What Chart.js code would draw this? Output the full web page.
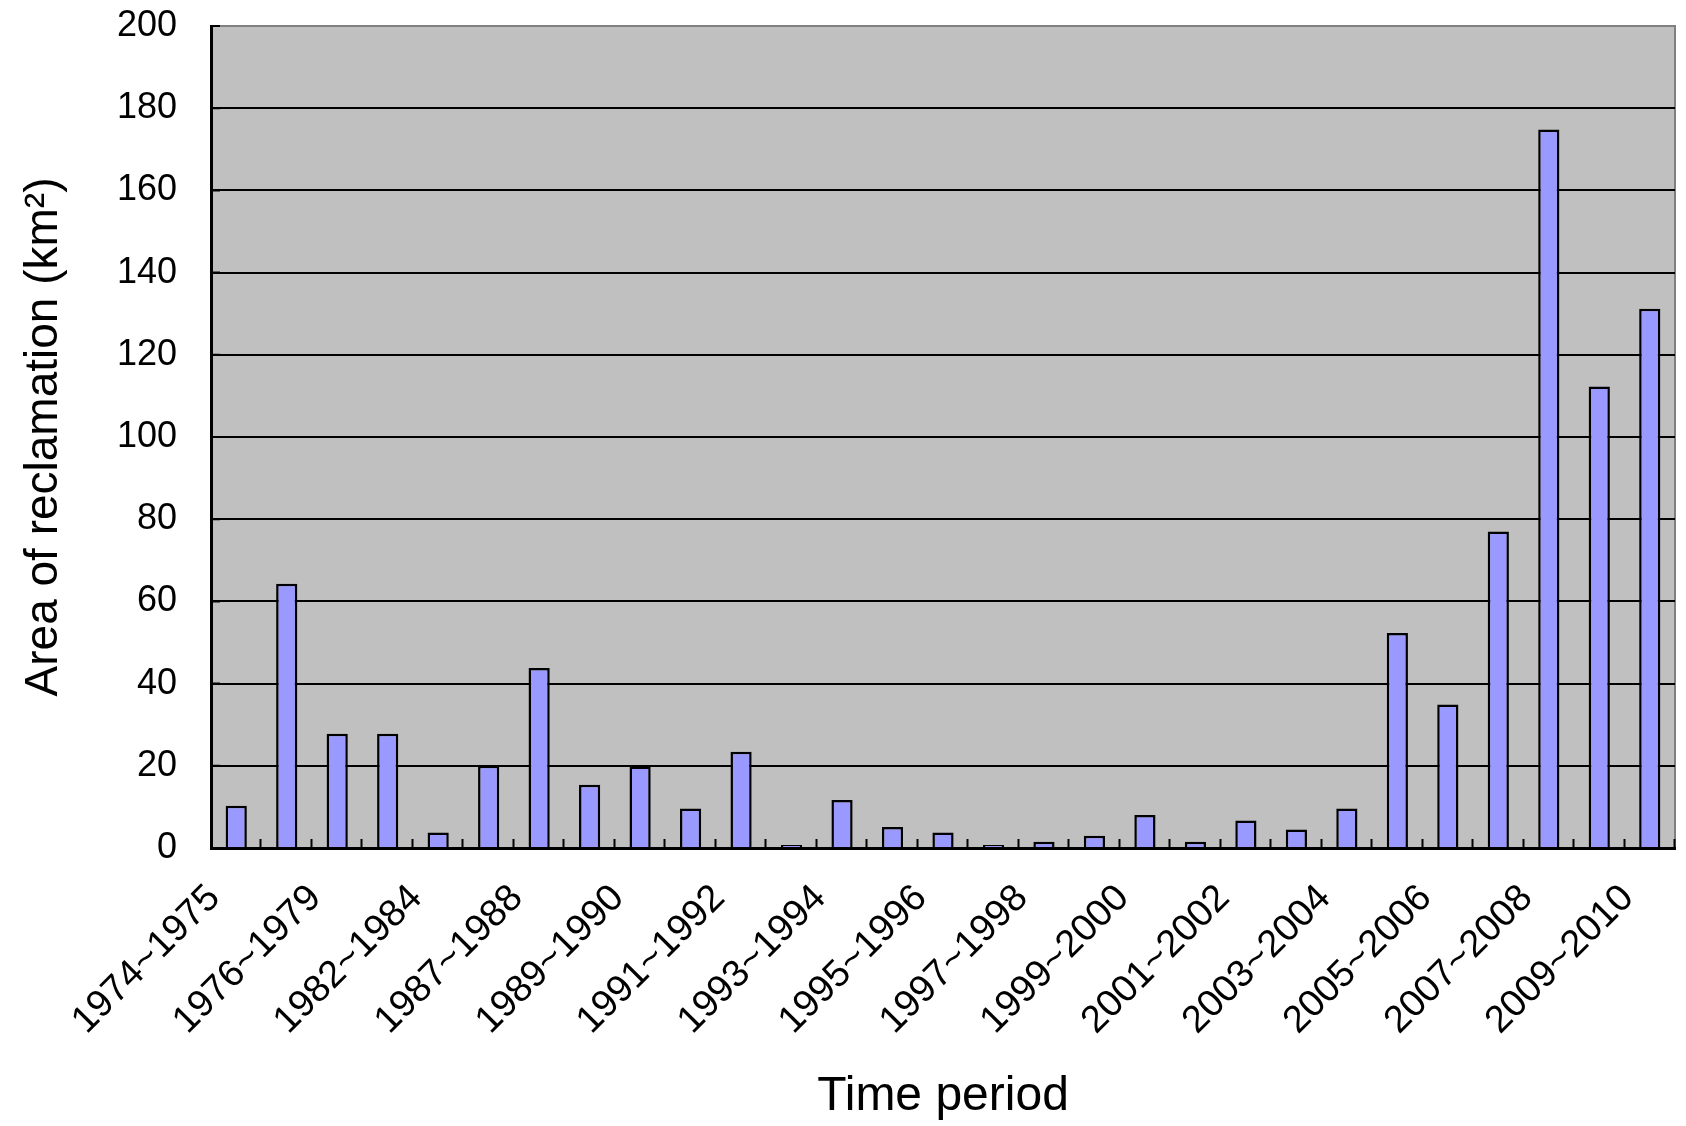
<!DOCTYPE html>
<html>
<head>
<meta charset="utf-8">
<script src="https://cdn.jsdelivr.net/npm/chart.js@4/dist/chart.umd.min.js"></script>
<style>
  html, body { margin: 0; padding: 0; background: #fff; }
  canvas { display: block; }
</style>
</head>
<body>
<canvas id="reclamation-chart" width="1686" height="1126"></canvas>
<script>
// time periods (only every other one is labelled on the axis)
const periods = [
    '1974~1975', '1975~1976', '1976~1979', '1979~1982', '1982~1984', '1984~1987',
    '1987~1988', '1988~1989', '1989~1990', '1990~1991', '1991~1992', '1992~1993',
    '1993~1994', '1994~1995', '1995~1996', '1996~1997', '1997~1998', '1998~1999',
    '1999~2000', '2000~2001', '2001~2002', '2002~2003', '2003~2004', '2004~2005',
    '2005~2006', '2006~2007', '2007~2008', '2008~2009', '2009~2010'
];

// area of reclamation, km2
const areas = [
    10.3, 64.3, 27.8, 27.8, 3.8, 20.0,
    43.8, 15.4, 19.8, 9.6, 23.4, 0.7,
    11.7, 5.1, 3.8, 0.7, 1.5, 3.0,
    8.0, 1.5, 6.7, 4.5, 9.6, 52.3,
    34.9, 77.0, 174.8, 112.3, 131.2
];

const yTicks = [0, 20, 40, 60, 80, 100, 120, 140, 160, 180, 200];

const fontFamily = "'Liberation Sans', Arial, sans-serif";

// grey plot area with a thin grey frame
const plotBackground = {
    id: 'plotBackground',
    beforeDraw(chart) {
        const {ctx, chartArea: a} = chart;
        ctx.save();
        ctx.fillStyle = '#c0c0c0';
        ctx.fillRect(a.left, a.top, a.right - a.left, a.bottom - a.top);
        ctx.strokeStyle = '#808080';
        ctx.lineWidth = 2;
        ctx.strokeRect(a.left, a.top, a.right - a.left, a.bottom - a.top);
        ctx.restore();
    }
};

// short tick marks pointing into the plot, like the original spreadsheet chart
const innerTicks = {
    id: 'innerTicks',
    afterDatasetsDraw(chart) {
        const {ctx, scales: {x, y}} = chart;
        const step = (x.right - x.left) / periods.length;
        ctx.save();
        ctx.strokeStyle = '#000';
        ctx.lineWidth = 2;
        ctx.beginPath();
        for (let i = 1; i <= periods.length; i++) {
            const px = Math.round(x.left + i * step) - 0.5;
            ctx.moveTo(px, y.bottom);
            ctx.lineTo(px, y.bottom - 9);
        }
        yTicks.forEach(v => {
            const py = y.getPixelForValue(v);
            ctx.moveTo(x.left, py);
            ctx.lineTo(x.left + 9, py);
        });
        ctx.stroke();
        ctx.restore();
    }
};

const ctx = document.getElementById('reclamation-chart').getContext('2d');
window.reclamationChart = new Chart(ctx, {
    type: 'bar',
    data: {
        labels: periods,
        datasets: [{
            data: areas,
            backgroundColor: '#9999ff',
            borderColor: '#000',
            borderWidth: 2.5,
            borderSkipped: 'bottom',
            barPercentage: 1,
            categoryPercentage: 0.42
        }]
    },
    options: {
        responsive: false,
        animation: false,
        events: [],
        layout: {
            padding: {left: 0, right: 11, top: 26, bottom: 0}
        },
        plugins: {
            legend: {display: false},
            tooltip: {enabled: false}
        },
        scales: {
            x: {
                grid: {display: false},
                border: {display: true, color: '#000', width: 3},
                ticks: {
                    autoSkip: false,
                    minRotation: 45,
                    maxRotation: 45,
                    padding: 20,
                    labelOffset: -22,
                    color: '#000',
                    font: {family: fontFamily, size: 38},
                    callback: (value, index) => index % 2 === 0 ? periods[index] : ''
                },
                title: {
                    display: true,
                    text: 'Time period',
                    color: '#000',
                    font: {family: fontFamily, size: 48},
                    padding: {top: 0, bottom: 0}
                },
                afterFit: (scale) => {
                    scale.height = 278;
                    scale.paddingLeft = 0;
                    scale.paddingRight = 0;
                }
            },
            y: {
                min: 0,
                max: 200,
                afterBuildTicks: (scale) => { scale.ticks = yTicks.map(v => ({value: v})); },
                grid: {
                    drawTicks: false,
                    lineWidth: 2,
                    color: (c) => c.tick && c.tick.value === 200 ? 'rgba(0,0,0,0)' : '#000'
                },
                border: {display: true, color: '#000', width: 3},
                ticks: {
                    padding: 34,
                    color: '#000',
                    font: {family: fontFamily, size: 36}
                },
                title: {
                    display: true,
                    text: 'Area of reclamation (km²)',
                    color: '#000',
                    font: {family: fontFamily, size: 46},
                    padding: {top: 17, bottom: 0}
                },
                afterFit: (scale) => {
                    scale.width = 211;
                    scale.paddingTop = 0;
                    scale.paddingBottom = 0;
                }
            }
        }
    },
    plugins: [plotBackground, innerTicks]
});
</script>
</body>
</html>
